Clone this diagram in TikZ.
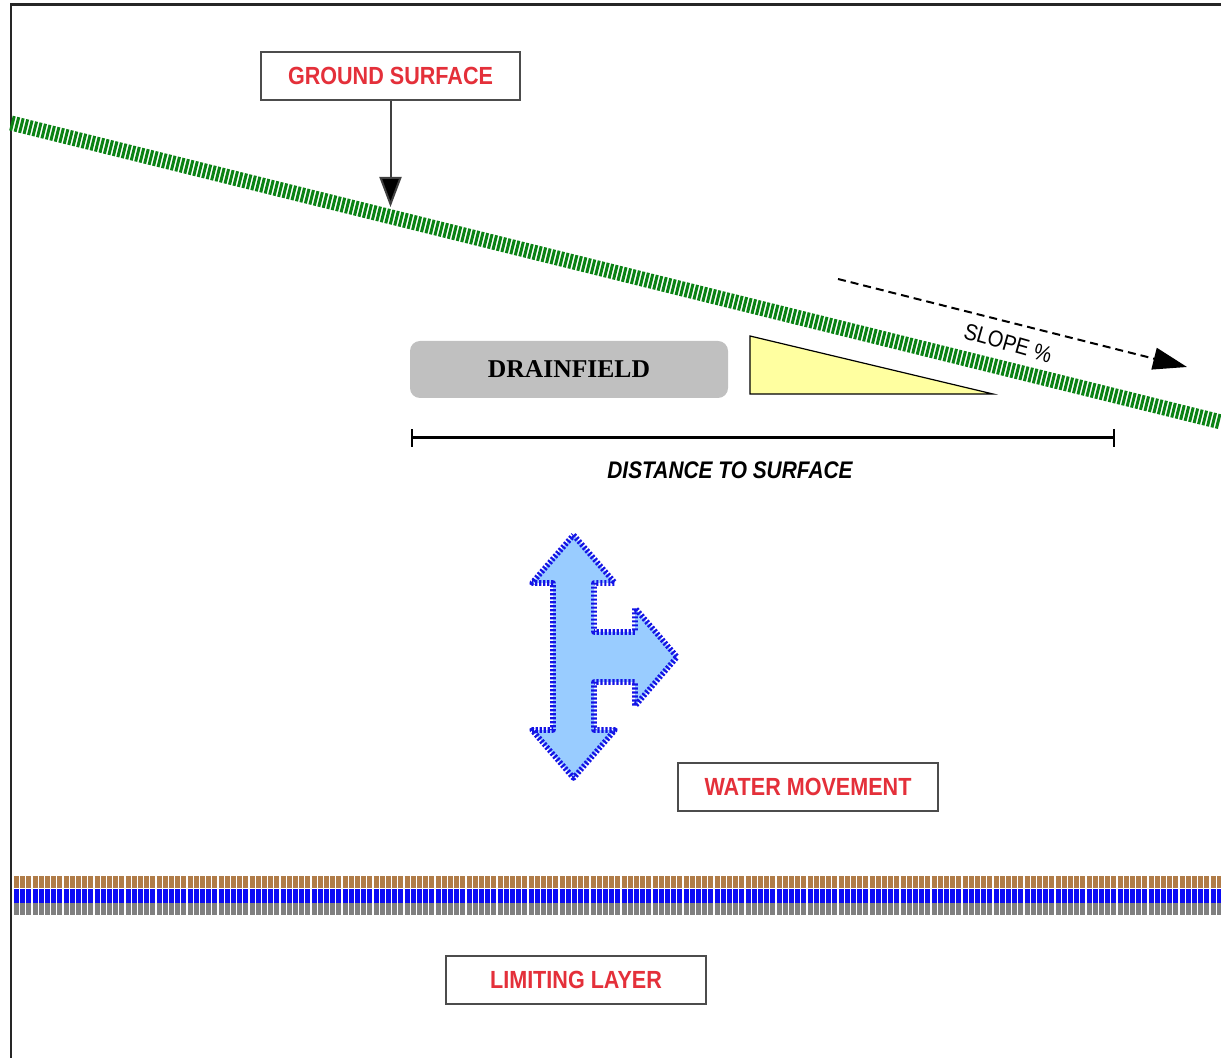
\documentclass[tikz,border=0pt]{standalone}
\usepackage{fontspec}
\usetikzlibrary{arrows.meta}
\newfontfamily\labfont[FakeStretch=0.87]{Liberation Sans}
\newfontfamily\dfont{Liberation Serif}
\definecolor{lblred}{RGB}{228,48,58}
\definecolor{grnd}{RGB}{10,130,20}
\definecolor{wfill}{RGB}{153,204,255}
\definecolor{wedge}{RGB}{20,20,230}
\definecolor{brn}{RGB}{176,124,72}
\definecolor{lblue}{RGB}{10,10,245}
\definecolor{lgray}{RGB}{128,128,128}
\definecolor{dfgray}{RGB}{192,192,192}
\definecolor{tri}{RGB}{255,255,160}
\tikzset{
  lbox/.style={draw=black!70, line width=0.75pt, fill=white, minimum width=129.5pt,
    minimum height=24pt, inner sep=0pt, text=lblred,
    font=\labfont\bfseries\fontsize{12.4}{14}\selectfont},
  ground/.style={line width=7.5pt, grnd, dash pattern=on 1.5pt off 0.8pt},
  ptr/.style={draw=black!75, line width=1pt, -{Triangle[length=15pt,width=11pt,fill=black]}},
  dfield/.style={fill=dfgray, rounded corners=5pt, minimum width=159pt, minimum height=28.5pt,
    inner sep=0pt, font=\dfont\bfseries\fontsize{12.8}{14}\selectfont},
  layer/.style={line width=#1, dash pattern=on 2.5pt off 0.6pt},
}
\begin{document}
\begin{tikzpicture}[x=0.5pt,y=-0.5pt]
\useasboundingbox (0,0) rectangle (1221,1058);
\fill[white] (0,0) rectangle (1221,1058);
% frame
\draw[line width=1.3pt, black!85] (11,1058) -- (11,4.5) -- (1221,4.5);
% ground line
\coordinate (g1) at (11,123);
\coordinate (g2) at (1221,422);
\draw[ground] (g1) -- (g2);
% ground surface label
\node[lbox] (gs) at (390.5,76) {GROUND SURFACE};
\coordinate (gt) at (390.5,207);
\draw[ptr] (gs.south) -- (gt);
% drainfield
\node[dfield] (df) at (569,369.5) {DRAINFIELD};
% slope triangle
\draw[fill=tri, draw=black, line width=0.6pt] (750,336) -- (750,394) -- (993,394) -- cycle;
% slope arrow
\coordinate (s1) at (838,279);
\coordinate (s2) at (1187,367);
\draw[line width=1pt, dash pattern=on 4pt off 2.5pt, -{Triangle[length=17pt,width=11pt]}] (s1) -- (s2);
\node[rotate=-16, inner sep=0pt, font=\labfont\fontsize{11.5}{13}\selectfont] (sl) at (1008,343) {SLOPE \%};
% distance bar
\coordinate (d1) at (411,438);
\coordinate (d2) at (1115,438);
\draw[line width=1.5pt, {Bar[width=9pt,line width=1pt]}-{Bar[width=9pt,line width=1pt]}] (d1) -- (d2);
\node[font=\labfont\bfseries\itshape\fontsize{12}{14}\selectfont] (dts) at (730,470) {DISTANCE TO SURFACE};
% water movement arrow
\draw[fill=wfill, draw=wedge, line width=2.8pt, dash pattern=on 1.1pt off 0.9pt, line join=round]
  (573.5,535) -- (615,583) -- (594,583) -- (594,632) -- (635,632) -- (635,608) -- (677,657)
  -- (635,706) -- (635,682) -- (594,682) -- (594,730) -- (615,730) -- (573.5,778)
  -- (532,730) -- (553,730) -- (553,583) -- (532,583) -- cycle;
\node[lbox, minimum width=130pt] (wm) at (808,787) {WATER MOVEMENT};
% limiting layer
\draw[layer=6pt, brn] (14,882) -- (1221,882);
\draw[layer=7pt, lblue] (14,896) -- (1221,896);
\draw[layer=6pt, lgray] (14,909) -- (1221,909);
\node[lbox, minimum width=130pt] (ll) at (576,980) {LIMITING LAYER};
\end{tikzpicture}
\end{document}
